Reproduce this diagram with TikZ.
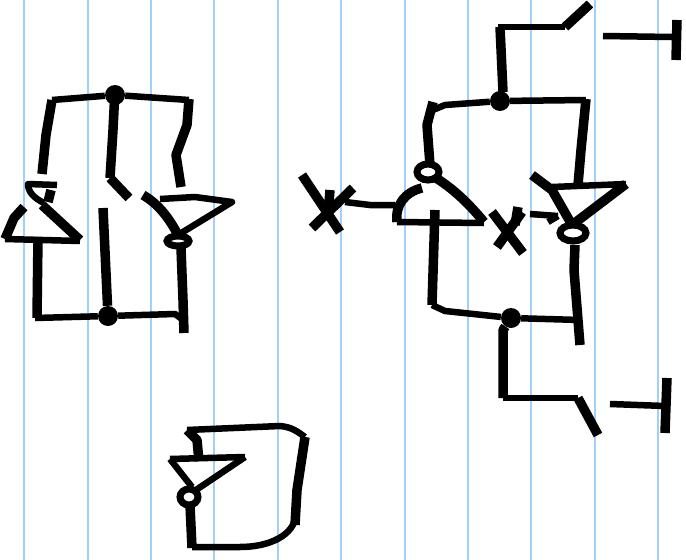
\documentclass[tikz,border=0pt]{standalone}
\usepackage{tikz}
\usetikzlibrary{shapes.geometric}

\begin{document}
\begin{tikzpicture}
[x=1pt,y=-1pt,%
  ruledecorate/.style={draw=ruleblue,line width=2pt},%
  dotdecorate/.style={shape=circle,inner sep=0pt,minimum size=20pt,fill=black},%
  ringdecorate/.style={shape=ellipse,inner sep=0pt,draw,line width=7pt},%
  heavydecorate/.style={line width=9.5pt,line join=round},%
  lightdecorate/.style={line width=6.5pt,line join=round}]
\definecolor{ruleblue}{RGB}{165,207,251}
\useasboundingbox (0,0) rectangle (686,560);
\fill[white] (0,0) rectangle (686,560);
%% paper rules
\foreach \x in {24,88,151,214,278,341,405,468,531,595,658}
{
  \draw[ruledecorate] (\x,0) -- (\x,560);
}
%% junctions and bubbles
\foreach \nodename/\x/\y in {ltop/115/95, lbot/108/316, rtop/500/101, rbot/511/318}
{
  \node (\nodename) at (\x,\y) [dotdecorate] {};
}
\foreach \nodename/\x/\y/\w/\h in {lgateb/178/241/22/10, rgatea/428/172/22/16, rgateb/573/233/26/16, fbgate/189/497/18/16}
{
  \node (\nodename) at (\x,\y) [ringdecorate,minimum width=\w pt,minimum height=\h pt] {};
}
%% left latch, wires
\draw[lightdecorate] (52,100) -- (ltop) -- (189,100);
\draw[heavydecorate] (42,174) -- (46,135) -- (52,100);
\draw[heavydecorate] (189,99) -- (187,125) -- (176,155) -- (181,187);
\draw[heavydecorate] (115,90) -- (113,130) -- (110,178);
\draw[heavydecorate] (110,178) -- (129,198);
\draw[heavydecorate] (103,208) -- (lbot);
\draw[heavydecorate] (38,237) -- (37,318);
\draw[lightdecorate] (35,318) -- (lbot) -- (175,314) -- (186,322);
\draw[heavydecorate] (181,248) -- (183,300) -- (184,333);
%% left latch, gates
\draw[lightdecorate] (57,185) -- (28,184) .. controls (28,192) and (34,198) .. (44,203);
\draw[heavydecorate] (51,190) -- (48,202);
\draw[heavydecorate] (42,205) -- (80,240);
\draw[lightdecorate] (80,241) -- (5,239);
\draw[heavydecorate] (5,239) -- (14,218) -- (24,207);
\draw[heavydecorate] (143,195) .. controls (160,205) and (170,220) .. (178,235);
\draw[lightdecorate] (160,199) -- (195,197) -- (232,202) -- (178,235);
%% right latch, wires
\draw[heavydecorate] (503,92) -- (500,27);
\draw[lightdecorate] (498,27) -- (565,27);
\draw[heavydecorate] (565,27) -- (590,4);
\draw[lightdecorate] (603,36) -- (672,37);
\draw[heavydecorate] (677,20) -- (676,60);
\draw[lightdecorate] (610,404) -- (665,406);
\draw[heavydecorate] (667,378) -- (665,433);
\draw[heavydecorate] (433,102) -- (427,125) -- (430,165);
\draw[lightdecorate] (428,112) -- (445,105) -- (rtop) -- (586,100);
\draw[heavydecorate] (586,99) -- (581,150) -- (578,185);
\draw[heavydecorate] (435,210) -- (432,305);
\draw[lightdecorate] (432,305) -- (445,311) -- (rbot) -- (580,320);
\draw[heavydecorate] (575,245) -- (574,270) -- (580,345);
\draw[heavydecorate] (rbot) -- (503,330) -- (503,398);
\draw[lightdecorate] (503,398) -- (578,398);
\draw[heavydecorate] (578,398) -- (598,435);
%% right latch, gates
\draw[heavydecorate] (302,175) -- (340,232);
\draw[heavydecorate] (353,188) -- (312,228);
\draw[heavydecorate] (330,190) -- (328,215);
\draw[lightdecorate] (345,202) -- (370,205) -- (395,205);
\draw[heavydecorate] (422,188) .. controls (405,192) and (395,205) .. (397,222);
\draw[lightdecorate] (397,222) -- (484,223);
\draw[heavydecorate] (484,222) .. controls (470,205) and (455,190) .. (436,178);
\draw[heavydecorate] (492,212) -- (523,253);
\draw[heavydecorate] (497,247) -- (522,212);
\draw[heavydecorate] (518,207) -- (515,225);
\draw[lightdecorate] (530,214) -- (558,216);
\draw[lightdecorate] (548,222) -- (558,216);
\draw[heavydecorate] (532,175) -- (552,190) -- (572,225);
\draw[lightdecorate] (552,187) -- (626,184);
\draw[heavydecorate] (626,184) -- (572,225);
%% feedback inverter
\draw[lightdecorate] (187,430) -- (280,426) .. controls (292,427) and (298,432) .. (305,437);
\draw[heavydecorate] (305,437) -- (297,490) -- (295,525);
\draw[lightdecorate] (296,515) .. controls (294,535) and (270,547) .. (240,547) -- (192,547);
\draw[heavydecorate] (192,548) -- (190,505);
\draw[heavydecorate] (187,430) -- (197,440) -- (199,461);
\draw[lightdecorate] (170,459) -- (245,457);
\draw[lightdecorate] (245,457) -- (196,490);
\draw[lightdecorate] (170,459) -- (192,487);
\end{tikzpicture}
\end{document}
